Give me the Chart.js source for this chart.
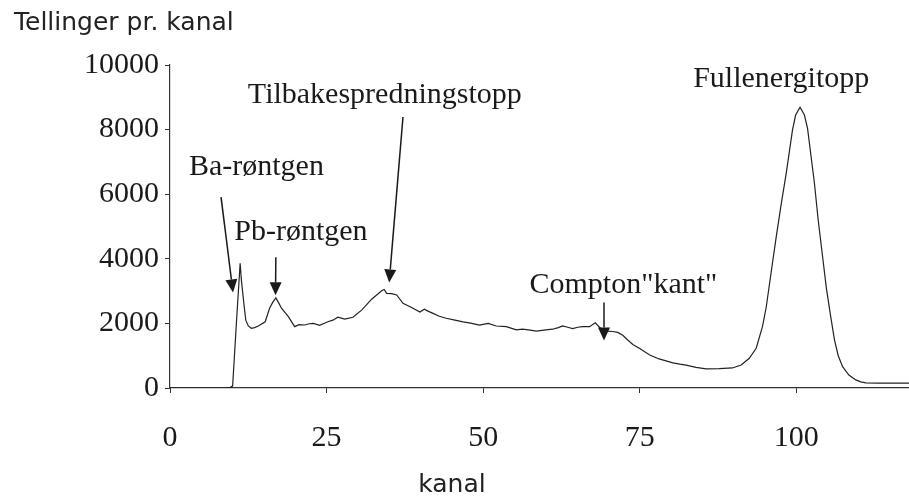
<!DOCTYPE html>
<html>
<head>
<meta charset="utf-8">
<script src="https://cdn.jsdelivr.net/npm/chart.js@4"></script>
<style>
  html, body { margin: 0; padding: 0; background: #fff; }
  #wrap { width: 909px; height: 500px; position: relative; }
</style>
</head>
<body>
<div id="wrap"><canvas id="chart"></canvas></div>
<script>
// gamma spectrum
const kanal = [
  0, 9, 9.6, 10.0, 10.6, 11.2, 11.4, 11.8, 12.1, 12.5, 13.0, 13.5, 14.1, 15.2, 15.9, 16.4, 16.9, 17.4, 17.8,
  18.9, 19.9, 20.6, 21.5, 22.2, 22.9, 23.9, 25.2, 26.0, 26.8, 27.9, 29.2, 30.6, 32.2, 33.8, 34.2, 34.6,
  35.4, 36.2, 37.2, 38.5, 39.9, 40.6, 41.2, 42.0, 43.0, 44.1, 45.5, 46.8, 48.0, 49.4, 50.8, 52.1, 53.7,
  55.3, 56.3, 57.5, 58.5, 60.0, 61.1, 62.0, 62.7, 63.5, 64.3, 65.1, 65.9, 67.0, 67.9, 68.9, 69.8, 70.7,
  71.5, 72.3, 73.0, 73.9, 75.0, 76.6, 78.1, 79.2, 80.3, 81.4, 82.4, 84.0, 85.6, 87.7, 89.8, 91.2, 92.5,
  93.6, 94.6, 95.2, 96.0, 96.8, 97.6, 98.4, 99.4, 99.9, 100.6, 101.3, 101.8, 102.9, 103.5, 104.2, 104.8,
  105.5, 106.1, 106.7, 107.4, 108.4, 109.5, 110.3, 111.1, 113, 118
];
const tellinger = [
  0, 0, 20, 60, 2000, 3860, 3340, 2600, 2100, 1920, 1850, 1870, 1920, 2050, 2470, 2650, 2790, 2620, 2470,
  2210, 1900, 1960, 1950, 1990, 2000, 1940, 2050, 2100, 2190, 2130, 2190, 2410, 2750, 3010, 3050, 2930,
  2920, 2880, 2620, 2500, 2350, 2440, 2380, 2310, 2220, 2160, 2100, 2050, 2010, 1950, 2000, 1920, 1900,
  1800, 1820, 1790, 1760, 1800, 1820, 1870, 1920, 1880, 1840, 1880, 1900, 1900, 2020, 1820, 1760, 1750,
  1720, 1630, 1500, 1350, 1220, 1020, 900, 840, 780, 740, 710, 640, 590, 600, 620, 710, 920,
  1230, 1900, 2500, 3600, 4680, 5700, 6650, 7990, 8450, 8690, 8450, 8040, 6340, 5200, 4070, 3100,
  2210, 1490, 1000, 660, 400, 250, 190, 160, 150, 150
];
const xTicks = [0, 25, 50, 75, 100];
const yTicks = [0, 2000, 4000, 6000, 8000, 10000];
const yTitle = 'Tellinger pr. kanal';
const xTitle = 'kanal';

// labels and arrows, placed in data units (channel, counts)
const noteText = ['Ba-røntgen', 'Pb-røntgen', 'Tilbakespredningstopp', 'Compton"kant"', 'Fullenergitopp'];
const notePos = [[13.8, 6590], [20.9, 4570], [34.3, 8810], [72.4, 2940], [97.6, 9310]];
const arrows = [
  [[8.15, 5910], [10.06, 2960]],
  [[16.9, 4050], [16.85, 2870]],
  [[37.2, 8390], [35.0, 3270]],
  [[69.3, 2650], [69.3, 1470]]
];

const SERIF = '"Liberation Serif", "Times New Roman", serif';
const SANS = '"DejaVu Sans", sans-serif';
const INK = '#1a1a1a';

const notesPlugin = {
  id: 'notes',
  afterDraw(chart) {
    const { ctx, scales: { x, y } } = chart;
    ctx.save();
    ctx.fillStyle = INK;
    ctx.textAlign = 'center';
    ctx.textBaseline = 'alphabetic';
    ctx.font = '30px ' + SERIF;
    noteText.forEach((t, i) => {
      ctx.fillText(t, x.getPixelForValue(notePos[i][0]), y.getPixelForValue(notePos[i][1]));
    });

    ctx.strokeStyle = INK;
    ctx.lineWidth = 1.5;
    for (const [from, to] of arrows) {
      const x0 = x.getPixelForValue(from[0]), y0 = y.getPixelForValue(from[1]);
      const x1 = x.getPixelForValue(to[0]), y1 = y.getPixelForValue(to[1]);
      const ang = Math.atan2(y1 - y0, x1 - x0);
      const head = 13, half = 6;
      const bx = x1 - head * Math.cos(ang), by = y1 - head * Math.sin(ang);
      ctx.beginPath();
      ctx.moveTo(x0, y0);
      ctx.lineTo(bx, by);
      ctx.stroke();
      ctx.beginPath();
      ctx.moveTo(x1, y1);
      ctx.lineTo(bx + half * Math.sin(ang), by - half * Math.cos(ang));
      ctx.lineTo(bx - half * Math.sin(ang), by + half * Math.cos(ang));
      ctx.closePath();
      ctx.fill();
    }

    // axis titles
    ctx.font = '25px ' + SANS;
    ctx.fillStyle = '#222';
    ctx.textAlign = 'left';
    ctx.textBaseline = 'middle';
    ctx.fillText(yTitle, 14, 23);
    ctx.textAlign = 'center';
    ctx.fillText(xTitle, 452, 485);
    ctx.restore();
  }
};

new Chart(document.getElementById('chart'), {
  type: 'line',
  data: {
    datasets: [{
      data: kanal.map((k, i) => ({ x: k, y: tellinger[i] })),
      borderColor: '#222',
      borderWidth: 1.2,
      pointRadius: 0,
      tension: 0,
      fill: false
    }]
  },
  options: {
    responsive: true,
    maintainAspectRatio: false,
    animation: false,
    layout: { padding: { top: 65, left: 15, right: 0, bottom: 0 } },
    plugins: {
      legend: { display: false },
      tooltip: { enabled: false }
    },
    scales: {
      x: {
        type: 'linear',
        min: 0,
        max: 118,
        afterBuildTicks: s => { s.ticks = xTicks.map(v => ({ value: v })); },
        afterFit: s => { s.height = 112; },
        ticks: {
          color: INK,
          font: { family: SERIF, size: 30 },
          padding: 27,
          maxRotation: 0,
          callback: v => String(v)
        },
        grid: { drawOnChartArea: false, tickLength: 5, color: '#333' },
        border: { color: '#333', width: 1.2 }
      },
      y: {
        min: 0,
        max: 10000,
        afterBuildTicks: s => { s.ticks = yTicks.map(v => ({ value: v })); },
        afterFit: s => { s.width = 155; },
        ticks: {
          color: INK,
          font: { family: SERIF, size: 30 },
          padding: 6,
          callback: v => String(v)
        },
        grid: { drawOnChartArea: false, tickLength: 5, color: '#333' },
        border: { color: '#333', width: 1.2 }
      }
    }
  },
  plugins: [notesPlugin]
});
</script>
</body>
</html>
